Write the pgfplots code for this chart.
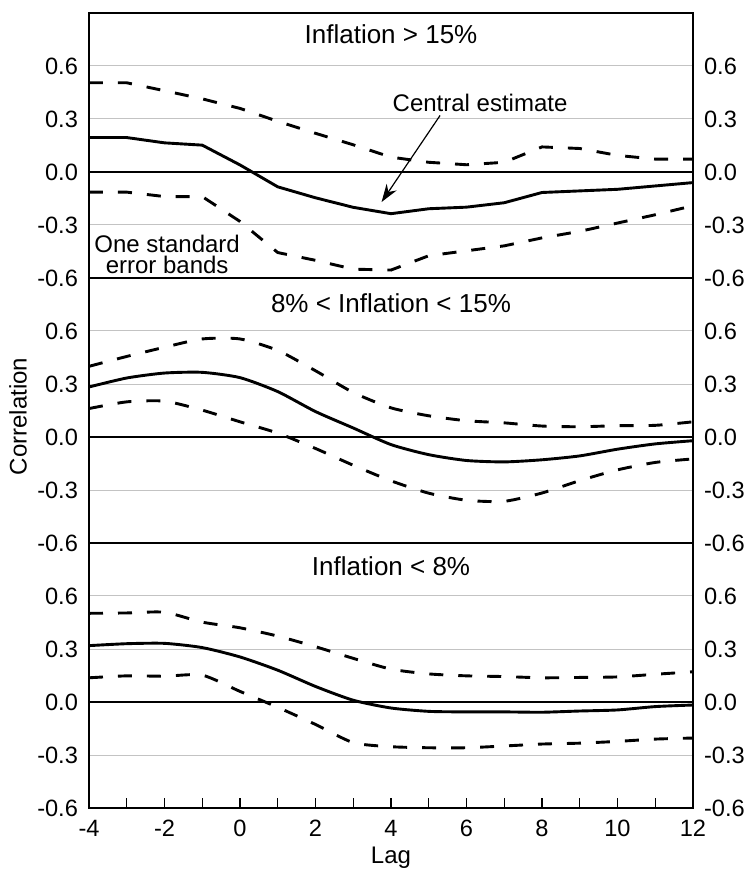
\documentclass[border=0pt]{standalone}
\usepackage{fontspec}
\setmainfont{Liberation Sans}
\usepackage{pgfplots}
\pgfplotsset{compat=1.18}
\usepackage{pgfplotstable}
\usetikzlibrary{arrows.meta}

\definecolor{gridgray}{RGB}{195,195,195}

\pgfplotstableread{
lag c u l
-4 0.195 0.505 -0.114
-3 0.195 0.505 -0.114
-2 0.165 0.460 -0.139
-1 0.152 0.414 -0.139
0 0.040 0.360 -0.280
1 -0.084 0.287 -0.456
2 -0.146 0.219 -0.500
3 -0.200 0.154 -0.550
4 -0.236 0.084 -0.555
5 -0.208 0.055 -0.474
6 -0.199 0.041 -0.446
7 -0.174 0.055 -0.418
8 -0.116 0.142 -0.373
9 -0.107 0.133 -0.336
10 -0.098 0.094 -0.289
11 -0.079 0.073 -0.242
12 -0.060 0.073 -0.191
}\tophigh

\pgfplotstableread{
lag c u l
-4 0.283 0.400 0.161
-3 0.334 0.456 0.199
-2 0.362 0.508 0.203
-1 0.366 0.555 0.152
0 0.336 0.555 0.086
1 0.257 0.490 0.022
2 0.144 0.375 -0.065
3 0.051 0.252 -0.160
4 -0.043 0.165 -0.248
5 -0.100 0.120 -0.318
6 -0.133 0.092 -0.358
7 -0.141 0.080 -0.364
8 -0.129 0.062 -0.317
9 -0.107 0.058 -0.247
10 -0.069 0.064 -0.186
11 -0.039 0.066 -0.144
12 -0.021 0.086 -0.124
}\midinf

\pgfplotstableread{
lag c u l
-4 0.319 0.502 0.137
-3 0.330 0.504 0.148
-2 0.332 0.508 0.146
-1 0.308 0.452 0.152
0 0.255 0.420 0.060
1 0.180 0.373 -0.030
2 0.088 0.313 -0.127
3 0.010 0.247 -0.230
4 -0.034 0.186 -0.253
5 -0.053 0.159 -0.259
6 -0.056 0.148 -0.259
7 -0.056 0.144 -0.249
8 -0.058 0.137 -0.238
9 -0.051 0.139 -0.233
10 -0.045 0.142 -0.223
11 -0.026 0.157 -0.210
12 -0.017 0.171 -0.204
}\lowinf

\newcommand{\tickfont}{\fontsize{11.8}{13}\selectfont}
\newcommand{\annfont}{\fontsize{12}{10.5}\selectfont}
\newcommand{\titfont}{\fontsize{13}{15}\selectfont}

\pgfplotsset{
  panel/.style={
    scale only axis, width=302pt, height=132.5pt,
    xmin=-4, xmax=12, ymin=-0.6, ymax=0.9,
    ytick={-0.6,-0.3,0,0.3,0.6},
    yticklabels={-0.6,-0.3,0.0,0.3,0.6},
    ymajorgrids, grid style={gridgray, line width=0.5pt},
    major tick length=5pt,
    ytick style={draw=none},
    xtick style={black, line width=0.65pt},
    axis line style={black, line width=0.75pt},
    yticklabel style={font=\tickfont, xshift=-2pt},
    xticklabel style={font=\tickfont, yshift=-2.7pt},
    xtick=\empty,
    clip=false,
  },
  rightlab/.style={
    scale only axis, width=302pt, height=132.5pt,
    xmin=-4, xmax=12, ymin=-0.6, ymax=0.9,
    axis x line=none, axis y line*=right,
    ytick={-0.6,-0.3,0,0.3,0.6},
    yticklabels={-0.6,-0.3,0.0,0.3,0.6},
    ytick style={draw=none}, major tick length=0pt,
    axis line style={black, line width=0.75pt, -},
    yticklabel style={font=\tickfont, xshift=2pt},
  },
  cen/.style={black, line width=1.45pt},
  band/.style={black, line width=1.45pt, dash pattern=on 7pt off 7.5pt},
}

\begin{document}
\begin{tikzpicture}
% top panel
\begin{axis}[panel, name=top, at={(0,265pt)}, anchor=south west]
  \addplot[black, line width=0.6pt] coordinates {(-4,0) (12,0)};
  \addplot[band] table[x=lag, y=u] {\tophigh};
  \addplot[band] table[x=lag, y=l] {\tophigh};
  \addplot[cen] table[x=lag, y=c] {\tophigh};
  \node[font=\titfont] at (axis cs:4,0.78) {Inflation > 15\%};
  \node[font=\annfont] at (axis cs:6.36,0.39) {Central estimate};
  \draw[line width=0.6pt, -{Stealth[length=9pt, width=6pt]}] (axis cs:5.30,0.32) -- (axis cs:3.75,-0.17);
  \node[font=\annfont, align=center] at (axis cs:-1.93,-0.465) {One standard\\error bands};
\end{axis}
\begin{axis}[rightlab, at={(0,265pt)}, anchor=south west]
\end{axis}
% middle panel
\begin{axis}[panel, name=mid, at={(0,132.5pt)}, anchor=south west]
  \addplot[black, line width=0.6pt] coordinates {(-4,0) (12,0)};
  \addplot[band, smooth, tension=0.4] table[x=lag, y=u] {\midinf};
  \addplot[band, smooth, tension=0.4] table[x=lag, y=l] {\midinf};
  \addplot[cen, smooth, tension=0.4] table[x=lag, y=c] {\midinf};
  \node[font=\titfont] at (axis cs:4,0.755) {8\% < Inflation < 15\%};
  \node[font=\annfont, rotate=90] at ([xshift=-35.5pt, yshift=-3pt]rel axis cs:0,0.5) {Correlation};
\end{axis}
\begin{axis}[rightlab, at={(0,132.5pt)}, anchor=south west]
\end{axis}
% bottom panel
\begin{axis}[panel, name=bot, at={(0,0)}, anchor=south west,
    xtick={-4,-3,...,12},
    xticklabels={-4,,-2,,0,,2,,4,,6,,8,,10,,12},
    xtick pos=left]
  \addplot[black, line width=0.6pt] coordinates {(-4,0) (12,0)};
  \addplot[band, smooth, tension=0.4] table[x=lag, y=u] {\lowinf};
  \addplot[band, smooth, tension=0.4] table[x=lag, y=l] {\lowinf};
  \addplot[cen, smooth, tension=0.4] table[x=lag, y=c] {\lowinf};
  \node[font=\titfont] at (axis cs:4,0.77) {Inflation < 8\%};
  \node[font=\annfont, anchor=base] at ([yshift=-27.5pt]rel axis cs:0.5,0) {Lag};
  \coordinate (O) at (rel axis cs:0,0);
\end{axis}
\begin{axis}[rightlab, at={(0,0)}, anchor=south west]
\end{axis}
\pgfresetboundingbox
\path ([shift={(-44.5pt,-30.5pt)}]O) rectangle ([shift={(329pt,404pt)}]O);
\end{tikzpicture}
\end{document}
